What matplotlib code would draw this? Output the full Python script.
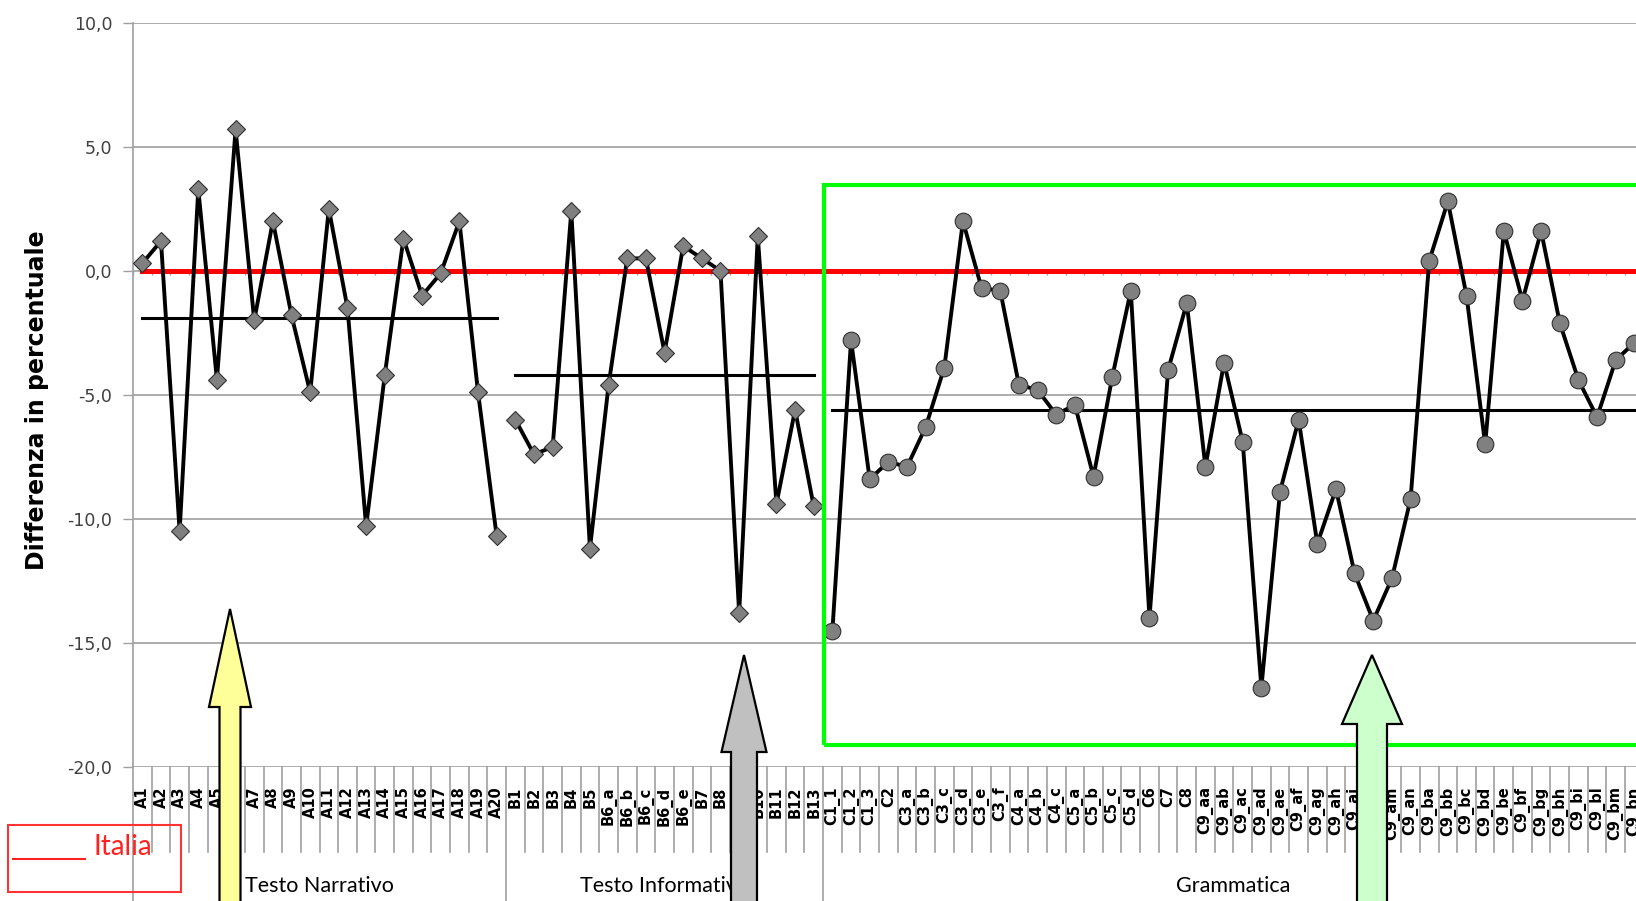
import numpy as np
import matplotlib
matplotlib.use('Agg')
import matplotlib.pyplot as plt
from matplotlib.patches import Polygon, Rectangle
from matplotlib.lines import Line2D

W, H = 1636, 901

#---
# categories (three groups on the x axis)
#---
cat_a = ['A1', 'A2', 'A3', 'A4', 'A5', 'A6', 'A7', 'A8', 'A9', 'A10',
         'A11', 'A12', 'A13', 'A14', 'A15', 'A16', 'A17', 'A18', 'A19', 'A20']
cat_b = ['B1', 'B2', 'B3', 'B4', 'B5', 'B6_a', 'B6_b', 'B6_c', 'B6_d', 'B6_e',
         'B7', 'B8', 'B9', 'B10', 'B11', 'B12', 'B13']
cat_c = ['C1_1', 'C1_2', 'C1_3', 'C2', 'C3_a', 'C3_b', 'C3_c', 'C3_d', 'C3_e', 'C3_f',
         'C4_a', 'C4_b', 'C4_c', 'C5_a', 'C5_b', 'C5_c', 'C5_d', 'C6', 'C7', 'C8',
         'C9_aa', 'C9_ab', 'C9_ac', 'C9_ad', 'C9_ae', 'C9_af', 'C9_ag', 'C9_ah',
         'C9_ai', 'C9_al', 'C9_am', 'C9_an', 'C9_ba', 'C9_bb', 'C9_bc', 'C9_bd',
         'C9_be', 'C9_bf', 'C9_bg', 'C9_bh', 'C9_bi', 'C9_bl', 'C9_bm', 'C9_bn']
groups = ['Testo Narrativo', 'Testo Informativo', 'Grammatica']

#---
# differences (percent points)
#---
val_a = [0.3, 1.2, -10.5, 3.3, -4.4, 5.7, -2.0, 2.0, -1.8, -4.9,
         2.5, -1.5, -10.3, -4.2, 1.3, -1.0, -0.1, 2.0, -4.9, -10.7]
val_b = [-6.0, -7.4, -7.1, 2.4, -11.2, -4.6, 0.5, 0.5, -3.3, 1.0,
         0.5, 0.0, -13.8, 1.4, -9.4, -5.6, -9.5]
val_c = [-14.5, -2.8, -8.4, -7.7, -7.9, -6.3, -3.9, 2.0, -0.7, -0.8,
         -4.6, -4.8, -5.8, -5.4, -8.3, -4.3, -0.8, -14.0, -4.0, -1.3,
         -7.9, -3.7, -6.9, -16.8, -8.9, -6.0, -11.0, -8.8, -12.2, -14.1,
         -12.4, -9.2, 0.4, 2.8, -1.0, -7.0, 1.6, -1.2, 1.6, -2.1,
         -4.4, -5.9, -3.6, -2.9]

mean_a = -1.9
mean_b = -4.2
mean_c = -5.6
italia = 0.0

yticks = [-20, -15, -10, -5, 0, 5, 10]
ytick_labels = ['-20,0', '-15,0', '-10,0', '-5,0', '0,0', '5,0', '10,0']

cats = cat_a + cat_b + cat_c
n = len(cats)
xa = np.arange(len(cat_a))
xb = np.arange(len(cat_b)) + len(cat_a)
xc = np.arange(len(cat_c)) + len(cat_a) + len(cat_b)

fig = plt.figure(figsize=(W / 100., H / 100.), dpi=100)
ax_l, ax_r, ax_t, ax_b = 133., 1643.7, 22.7, 767.
ax = fig.add_axes([ax_l / W, 1 - ax_b / H, (ax_r - ax_l) / W, (ax_b - ax_t) / H])

ax.set_xlim(-0.5, n - 0.5)
ax.set_ylim(-20, 10)

# grid and axes
ax.set_yticks(yticks)
ax.set_yticklabels(ytick_labels, fontsize=12.5, color='#404040')
ax.yaxis.grid(True, color='#a0a0a0', lw=1.2)
ax.set_axisbelow(True)
ax.tick_params(axis='y', direction='out', length=7, width=1, color='#a0a0a0', pad=8)
for s in ['top', 'right', 'bottom']:
    ax.spines[s].set_visible(False)
ax.spines['left'].set_color('#a0a0a0')
ax.spines['left'].set_linewidth(1.2)

ax.set_xticks(np.arange(n))
ax.set_xticklabels(cats, rotation=90, fontsize=10.5, fontweight='bold', va='top')
ax.tick_params(axis='x', length=0, pad=14)

# small ticks of the category axis crossing at 0
bounds = np.arange(n + 1) - 0.5
ax.vlines(bounds, -0.18, 0, color='#a0a0a0', lw=1, zorder=2)

# separators under the axis
tr = ax.get_xaxis_transform()
group_bounds = [-0.5, len(cat_a) - 0.5, len(cat_a) + len(cat_b) - 0.5]
for b in bounds:
    if b in group_bounds:
        ax.plot([b, b], [0, -(H - ax_b) / (ax_b - ax_t) - 0.01], transform=tr,
                color='#a0a0a0', lw=1.2, clip_on=False)
    else:
        ax.plot([b, b], [0, -85. / (ax_b - ax_t)], transform=tr,
                color='#a0a0a0', lw=1.2, clip_on=False)

# group names
starts = [0, len(cat_a), len(cat_a) + len(cat_b)]
sizes = [len(cat_a), len(cat_b), len(cat_c)]
for g, st, sz in zip(groups, starts, sizes):
    ax.text(st + sz / 2. - 0.5, -(886 - ax_b) / (ax_b - ax_t), g, transform=tr,
            ha='center', va='center', fontsize=15.5, family='Lato', clip_on=False)

# reference line Italia
ax.plot([0, n - 1], [italia, italia], color='red', lw=3.6, zorder=3)

# mean lines
ax.plot([xa[0], xa[-1]], [mean_a, mean_a], color='black', lw=2.2, zorder=3)
ax.plot([xb[0], xb[-1]], [mean_b, mean_b], color='black', lw=2.2, zorder=3)
ax.plot([xc[0], xc[-1]], [mean_c, mean_c], color='black', lw=2.2, zorder=3)

# data
ax.plot(xa, val_a, color='black', lw=2.8, marker='D', ms=9, mfc='#808080',
        mec='#303030', mew=0.8, zorder=4)
ax.plot(xb, val_b, color='black', lw=2.8, marker='D', ms=9, mfc='#808080',
        mec='#303030', mew=0.8, zorder=4)
ax.plot(xc, val_c, color='black', lw=2.8, marker='o', ms=12, mfc='#808080',
        mec='#303030', mew=0.8, zorder=4)

# green box around Grammatica
ax.add_patch(Rectangle((xc[0] - 0.47, -19.1), 60, 22.55, fill=False,
                       edgecolor='#00ff00', lw=3, clip_on=False, zorder=5))

fig.text(37.5 / W, 1 - 400. / H, 'Differenza in percentuale', rotation=90,
         ha='center', va='center', fontsize=17, fontweight='bold')

#----
# block arrows in pixel units
#--
def block_arrow(cx, tip, base, head_hw, shaft_hw, color):
    pts = [(cx, tip), (cx + head_hw, base), (cx + shaft_hw, base), (cx + shaft_hw, H + 20),
           (cx - shaft_hw, H + 20), (cx - shaft_hw, base), (cx - head_hw, base)]
    pts = [(x / W, 1 - y / H) for x, y in pts]
    fig.patches.append(Polygon(pts, closed=True, facecolor=color, edgecolor='black',
                               lw=1.6, transform=fig.transFigure, zorder=10))

block_arrow(230, 609, 707, 21, 10.5, '#ffff99')
block_arrow(744, 655, 752, 22.5, 13, '#c0c0c0')
block_arrow(1372, 655, 724, 30, 15, '#ccffcc')

# legend box
fig.patches.append(Rectangle((8. / W, 1 - 892. / H), 173. / W, 67. / H, fill=False,
                             edgecolor='#ff3333', lw=1.5, transform=fig.transFigure, zorder=10))
fig.lines.append(Line2D([13. / W, 85. / W], [1 - 859. / H, 1 - 859. / H], color='#ff2020',
                        lw=1.5, transform=fig.transFigure, zorder=11))
fig.text(93. / W, 1 - 855. / H, 'Italia', color='#ff2020', fontsize=20, family='Lato',
         va='baseline', ha='left')

fig.savefig('out.png', dpi=100)
